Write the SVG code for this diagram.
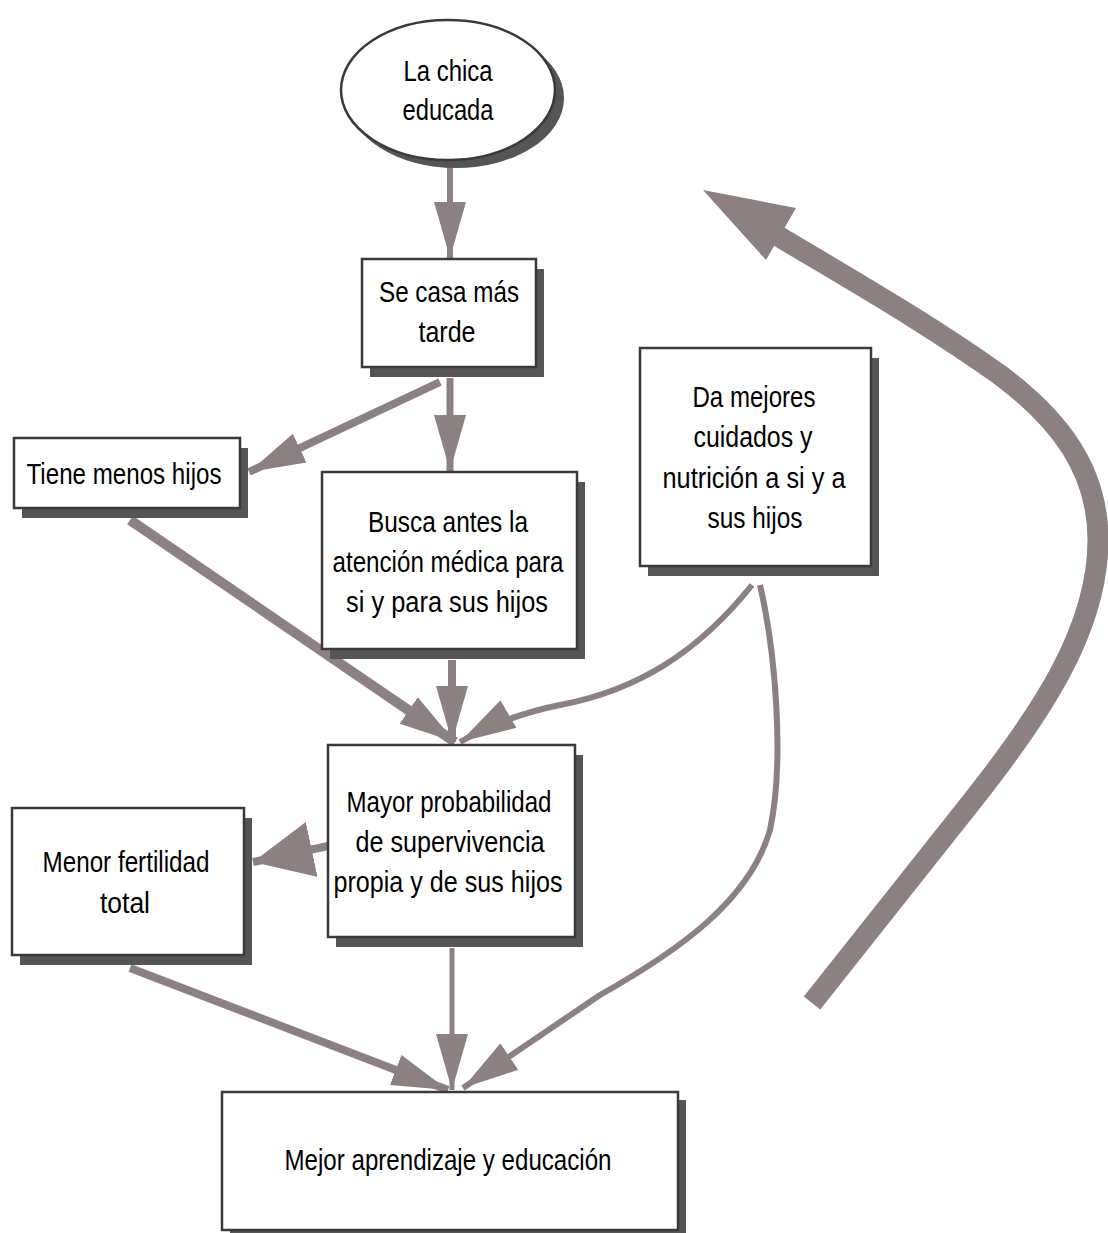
<svg xmlns="http://www.w3.org/2000/svg" width="1108" height="1233" viewBox="0 0 1108 1233">
<defs>
<style>
.box{fill:#fff;stroke:#3a3a3a;stroke-width:2.5}
.sh{fill:#555}
.t{font-family:"Liberation Sans",Arial,sans-serif;font-size:29px;fill:#000;text-anchor:middle}
.c{fill:none;stroke:#8b8082;stroke-linecap:butt;stroke-linejoin:round}
</style>
<marker id="ah" markerUnits="userSpaceOnUse" markerWidth="60" markerHeight="34" refX="56" refY="17" orient="auto" viewBox="0 0 60 34">
<path d="M0,1 L56,17 L0,33 Z" fill="#8b8082"/>
</marker>
<marker id="ahw" markerUnits="userSpaceOnUse" markerWidth="64" markerHeight="56" refX="60" refY="28" orient="auto" viewBox="0 0 64 56">
<path d="M0,0 L60,28 L0,56 Z" fill="#8b8082"/>
</marker>
</defs>
<rect width="1108" height="1233" fill="#fff"/>

<g id="connectors">
<path class="c" d="M450,164 L450,258" stroke-width="6" marker-end="url(#ah)"/>
<path class="c" d="M450,378 L450,471" stroke-width="7" marker-end="url(#ah)"/>
<path class="c" d="M440,382 L249,472" stroke-width="8" marker-end="url(#ah)"/>
<path class="c" d="M130,520 L455,742" stroke-width="10" marker-end="url(#ah)"/>
<path class="c" d="M452,660 L452,742" stroke-width="8" marker-end="url(#ah)"/>
<path class="c" d="M752,585 C700,650 640,690 560,705 Q505,716 460,742" stroke-width="6" marker-end="url(#ah)"/>
<path class="c" d="M760,585 C775,650 785,760 770,830 C750,900 680,950 600,995 L463,1088" stroke-width="6" marker-end="url(#ah)"/>
<path class="c" d="M328,846 L253,862" stroke-width="8" marker-end="url(#ahw)"/>
<path class="c" d="M452,948 L452,1090" stroke-width="5" marker-end="url(#ah)"/>
<path class="c" d="M130,968 L448,1090" stroke-width="8" marker-end="url(#ah)"/>
<path class="c" d="M812,1003 L973,800 C1040,715 1098,630 1098,540 C1098,470 1060,420 1000,375 C930,325 860,285 778,236" stroke-width="21"/>
<polygon points="703,190 796,208 766,260" fill="#8b8082"/>
</g>

<g id="n-chica">
<ellipse cx="456" cy="98" rx="108" ry="70" class="sh"/>
<ellipse cx="448" cy="90" rx="107" ry="70" class="box"/>
<text class="t" x="448" y="81" textLength="89" lengthAdjust="spacingAndGlyphs">La chica</text>
<text class="t" x="448" y="120" textLength="91" lengthAdjust="spacingAndGlyphs">educada</text>
</g>

<g id="n-secasa">
<rect x="370" y="269" width="174" height="108" class="sh"/>
<rect x="362" y="259" width="174" height="108" class="box"/>
<text class="t" x="449" y="302" textLength="140" lengthAdjust="spacingAndGlyphs">Se casa más</text>
<text class="t" x="447" y="342" textLength="57" lengthAdjust="spacingAndGlyphs">tarde</text>
</g>

<g id="n-tiene">
<rect x="22" y="448" width="226" height="70" class="sh"/>
<rect x="14" y="438" width="226" height="70" class="box"/>
<text class="t" x="124" y="484" textLength="195" lengthAdjust="spacingAndGlyphs">Tiene menos hijos</text>
</g>

<g id="n-busca">
<rect x="330" y="482" width="255" height="177" class="sh"/>
<rect x="322" y="472" width="255" height="177" class="box"/>
<text class="t" x="448" y="532" textLength="160" lengthAdjust="spacingAndGlyphs">Busca antes la</text>
<text class="t" x="448" y="572" textLength="231" lengthAdjust="spacingAndGlyphs">atención médica para</text>
<text class="t" x="447" y="612" textLength="202" lengthAdjust="spacingAndGlyphs">si y para sus hijos</text>
</g>

<g id="n-da">
<rect x="648" y="358" width="231" height="218" class="sh"/>
<rect x="640" y="348" width="231" height="218" class="box"/>
<text class="t" x="754" y="407" textLength="123" lengthAdjust="spacingAndGlyphs">Da mejores</text>
<text class="t" x="753" y="447" textLength="119" lengthAdjust="spacingAndGlyphs">cuidados y</text>
<text class="t" x="754" y="488" textLength="183" lengthAdjust="spacingAndGlyphs">nutrición a si y a</text>
<text class="t" x="755" y="528" textLength="95" lengthAdjust="spacingAndGlyphs">sus hijos</text>
</g>

<g id="n-mayor">
<rect x="336" y="755" width="247" height="192" class="sh"/>
<rect x="328" y="745" width="247" height="192" class="box"/>
<text class="t" x="449" y="812" textLength="205" lengthAdjust="spacingAndGlyphs">Mayor probabilidad</text>
<text class="t" x="450" y="852" textLength="189" lengthAdjust="spacingAndGlyphs">de supervivencia</text>
<text class="t" x="448" y="892" textLength="229" lengthAdjust="spacingAndGlyphs">propia y de sus hijos</text>
</g>

<g id="n-menor">
<rect x="20" y="818" width="232" height="147" class="sh"/>
<rect x="12" y="808" width="232" height="147" class="box"/>
<text class="t" x="126" y="872" textLength="167" lengthAdjust="spacingAndGlyphs">Menor fertilidad</text>
<text class="t" x="125" y="913" textLength="50" lengthAdjust="spacingAndGlyphs">total</text>
</g>

<g id="n-mejor">
<rect x="230" y="1100" width="456" height="140" class="sh"/>
<rect x="222" y="1092" width="456" height="138" class="box"/>
<text class="t" x="448" y="1170" textLength="327" lengthAdjust="spacingAndGlyphs">Mejor aprendizaje y educación</text>
</g>
</svg>
